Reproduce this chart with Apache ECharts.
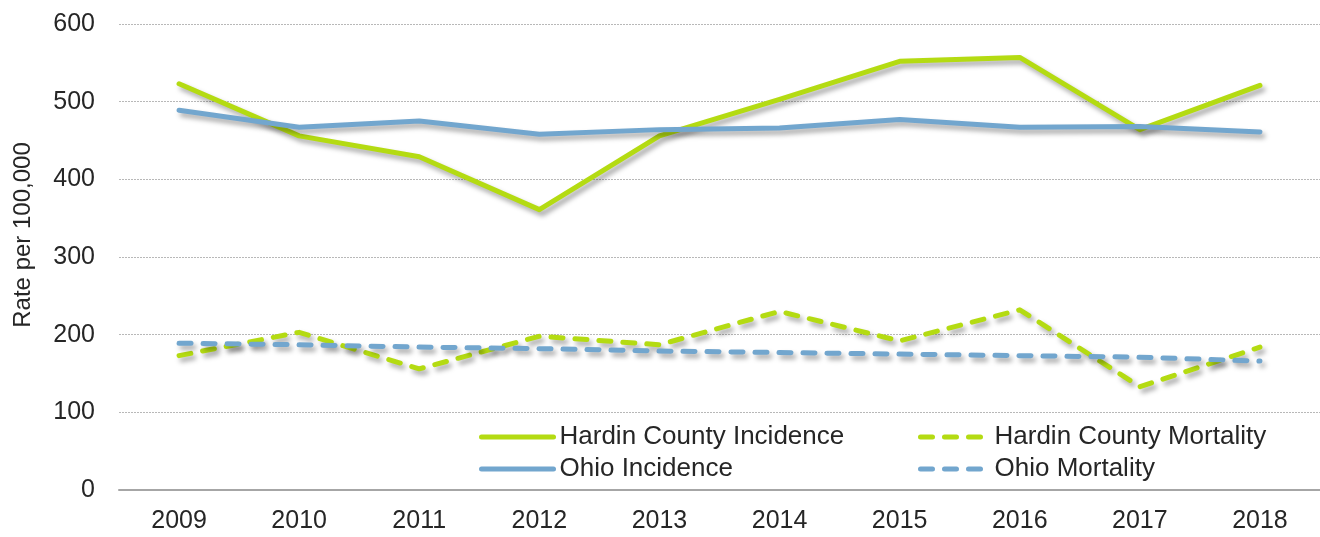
<!DOCTYPE html>
<html>
<head>
<meta charset="utf-8">
<script src="https://cdn.jsdelivr.net/npm/echarts@6/dist/echarts.min.js"></script>
<style>
  html, body { margin: 0; padding: 0; background: #fff; }
  #main { width: 1320px; height: 537px; }
</style>
</head>
<body>
<div id="main"></div>
<script>
// years on the x axis
var years = ['2009', '2010', '2011', '2012', '2013', '2014', '2015', '2016', '2017', '2018'];

// rates per 100,000
var hardinIncidence = [523, 456, 429, 361, 456, 503, 552, 557, 464, 521];
var ohioIncidence   = [489, 467, 475, 458, 464, 466, 477, 467, 468, 461];
var hardinMortality = [173, 203, 156, 198, 187, 230, 192, 232, 133, 184];
var ohioMortality   = [189, 187, 184, 182, 179, 177, 175, 173, 171, 166];

var yTicks = [0, 100, 200, 300, 400, 500, 600];

var green = '#b4db12';
var blue = '#72a6ce';
var font = 'Liberation Sans';
var textColor = '#262626';

var chart = echarts.init(document.getElementById('main'));

// 画线的公共样式
function mkLine(name, data, color, dashed) {
  return {
    name: name,
    type: 'line',
    data: data,
    showSymbol: false,
    symbol: 'none',
    z: dashed ? 2 : 3,
    lineStyle: {
      color: color,
      width: 5,
      type: dashed ? [12, 12] : 'solid',
      cap: 'round',
      join: 'round',
      shadowColor: 'rgba(0,0,0,0.35)',
      shadowBlur: 5,
      shadowOffsetX: 3,
      shadowOffsetY: 4
    },
    itemStyle: { color: color }
  };
}

function mkLegend(left, width, names) {
  return {
    left: left, top: 424, orient: 'vertical',
    padding: 0,
    itemWidth: width, itemHeight: 14, itemGap: 6,
    data: names,
    itemStyle: { opacity: 0 },
    lineStyle: { width: 5, cap: 'round', shadowBlur: 0, shadowOffsetX: 0, shadowOffsetY: 0 },
    textStyle: { fontFamily: font, fontSize: 26, lineHeight: 26, color: textColor, padding: [0, 0, 0, 1] }
  };
}

var option = {
  backgroundColor: '#fff',
  animation: false,
  grid: { left: 119, top: 24, width: 1216, bottom: 47 },
  legend: [
    mkLegend(479, 72, ['Hardin County Incidence', 'Ohio Incidence']),
    mkLegend(918, 68, ['Hardin County Mortality', 'Ohio Mortality'])
  ],
  xAxis: {
    type: 'category',
    data: years,
    boundaryGap: true,
    axisLine: { lineStyle: { color: '#a6a6a6', width: 2 } },
    axisTick: { show: false },
    axisLabel: { fontFamily: font, fontSize: 25, color: textColor, margin: 19 }
  },
  yAxis: {
    type: 'value',
    min: yTicks[0],
    max: yTicks[yTicks.length - 1],
    interval: 100,
    name: 'Rate per 100,000',
    nameLocation: 'middle',
    nameGap: 84,
    nameRotate: 90,
    nameTextStyle: { fontFamily: font, fontSize: 24, color: textColor, padding: [0, 0, 0, 44] },
    axisLine: { show: false },
    axisTick: { show: false },
    axisLabel: { fontFamily: font, fontSize: 25, color: textColor, margin: 24 },
    splitLine: { lineStyle: { color: '#b8b8b8', width: 1, type: [2, 1] } }
  },
  series: [
    mkLine('Hardin County Incidence', hardinIncidence, green, false),
    mkLine('Hardin County Mortality', hardinMortality, green, true),
    mkLine('Ohio Incidence', ohioIncidence, blue, false),
    mkLine('Ohio Mortality', ohioMortality, blue, true)
  ]
};

chart.setOption(option);
</script>
</body>
</html>
